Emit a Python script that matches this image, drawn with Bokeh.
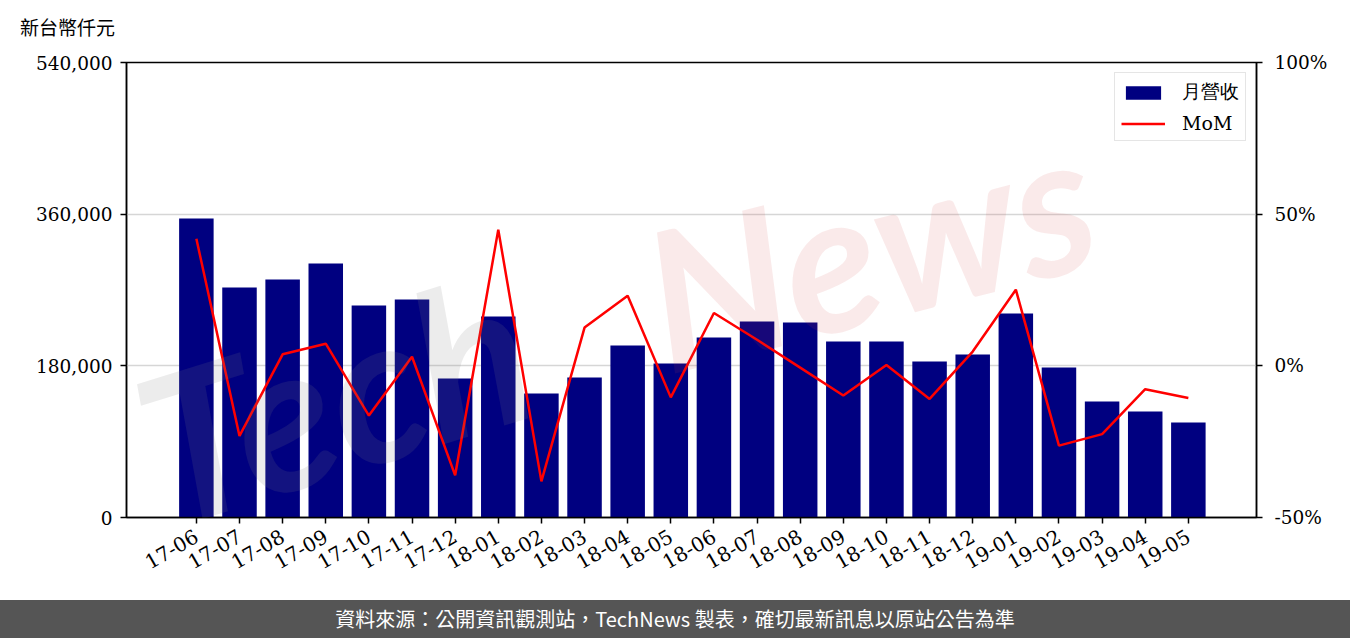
import math
from bokeh.plotting import figure
from bokeh.models import (Range1d, LinearAxis, FixedTicker, NumeralTickFormatter,
                          PrintfTickFormatter, Legend, LegendItem, Label, Div,
                          ColumnDataSource)
from bokeh.layouts import column
from bokeh.embed import file_html
from bokeh.resources import INLINE

months = ["17-06", "17-07", "17-08", "17-09", "17-10", "17-11", "17-12",
          "18-01", "18-02", "18-03", "18-04", "18-05", "18-06", "18-07",
          "18-08", "18-09", "18-10", "18-11", "18-12", "19-01", "19-02",
          "19-03", "19-04", "19-05"]
revenue = [355000, 273000, 282500, 301400, 251600, 258700, 165000,
           238500, 147200, 166200, 204100, 182800, 213600, 232600,
           231400, 208900, 208900, 185100, 193400, 242100, 178000,
           137700, 125800, 112700]
mom = [41.9, -23.1, 3.8, 7.3, -16.4, 3.0, -36.1,
       44.9, -38.1, 12.6, 23.1, -10.4, 17.4, 8.6,
       -0.6, -9.8, 0.3, -10.9, 4.7, 25.1, -26.3,
       -22.5, -7.7, -10.6]
left_ticks = [0, 180000, 360000, 540000]
right_ticks = [-50, 0, 50, 100]
unit_label = "新台幣仟元"
footer_text = "資料來源：公開資訊觀測站，TechNews 製表，確切最新訊息以原站公告為準"

idx = list(range(len(months)))
src = ColumnDataSource(dict(x=idx, rev=revenue, mom=mom))

TOP_H = 44
p = figure(width=1350, height=600 - TOP_H,
           x_range=Range1d(-1.62, len(months) - 1 + 1.58),
           y_range=Range1d(left_ticks[0], left_ticks[-1]),
           output_backend="svg", toolbar_location=None,
           min_border_left=126, min_border_right=94,
           min_border_top=62 - TOP_H, min_border_bottom=83)
p.extra_y_ranges = {"mom": Range1d(right_ticks[0], right_ticks[-1])}

bars = p.vbar(x="x", top="rev", width=0.8, source=src,
              fill_color="#000080", line_color=None)
line = p.line(x="x", y="mom", source=src, y_range_name="mom",
              line_color="#ff0000", line_width=2.5)

# axes
p.xaxis.ticker = FixedTicker(ticks=idx)
p.xaxis.major_label_overrides = {i: m for i, m in enumerate(months)}
p.xaxis.major_label_orientation = math.pi / 6
p.yaxis.ticker = FixedTicker(ticks=left_ticks)
p.yaxis.formatter = NumeralTickFormatter(format="0,0")

ax2 = LinearAxis(y_range_name="mom", ticker=FixedTicker(ticks=right_ticks),
                 formatter=PrintfTickFormatter(format="%d%%"))
p.add_layout(ax2, "right")

for ax in [p.xaxis[0], p.yaxis[0], ax2]:
    ax.axis_line_width = 1.5
    ax.axis_line_color = "black"
    ax.major_tick_line_width = 1.5
    ax.major_tick_line_color = "black"
    ax.major_tick_out = 6
    ax.major_tick_in = 0
    ax.minor_tick_out = 0
    ax.minor_tick_in = 0
    ax.major_label_text_font = "DejaVu Serif"
    ax.major_label_text_font_size = "18.5px"
    ax.major_label_text_color = "black"
    ax.major_label_standoff = 8
ax2.major_label_standoff = 12
p.xaxis[0].major_label_text_font_size = "20px"
p.xaxis[0].major_label_standoff = 11

p.xgrid.visible = False
p.ygrid.ticker = FixedTicker(ticks=left_ticks)
p.ygrid.grid_line_color = "#d6d6d6"
p.ygrid.grid_line_width = 1.5
p.outline_line_color = "black"
p.outline_line_width = 1.5
p.outline_line_alpha = 1.0

# watermark
wm1 = Label(x=-1.2, y=75000, text="Tech", angle=0.3, text_font="Lato",
            text_font_style="bold italic", text_font_size="205px",
            text_color="#808080", text_alpha=0.15, text_baseline="alphabetic")
wm2 = Label(x=10.5, y=255000, text="News", angle=0.25, text_font="Lato",
            text_font_style="bold italic", text_font_size="195px",
            text_color="#d04040", text_alpha=0.11, text_baseline="alphabetic")
p.add_layout(wm1)
p.add_layout(wm2)

legend = Legend(items=[LegendItem(label="月營收", renderers=[bars]),
                       LegendItem(label="MoM", renderers=[line])],
                location="top_right",
                label_text_font="DejaVu Serif", label_text_font_size="19px",
                label_text_color="black",
                glyph_width=44, glyph_height=17, label_height=20,
                label_standoff=17, spacing=7, padding=6, margin=10,
                border_line_color="#cccccc", border_line_width=1.5,
                background_fill_alpha=0.9)
p.add_layout(legend)

top = Div(text=('<div style="margin-top:17px;margin-left:20px;font-size:19px;'
                'line-height:20px;color:black;'
                "font-family:'Noto Sans CJK TC',sans-serif;\">"
                + unit_label + '</div>'),
          width=1350, height=TOP_H, margin=(0, 0, 0, 0))

footer = Div(text=footer_text, width=1350, height=38, margin=(0, 0, 0, 0),
             styles={"background-color": "#555555", "color": "white",
                     "font-family": "'Noto Sans CJK TC', sans-serif",
                     "font-size": "20px", "text-align": "center",
                     "line-height": "38px", "width": "1350px",
                     "height": "38px"})

layout = column(top, p, footer, spacing=0)
open("out.html", "w").write(file_html(layout, INLINE))
